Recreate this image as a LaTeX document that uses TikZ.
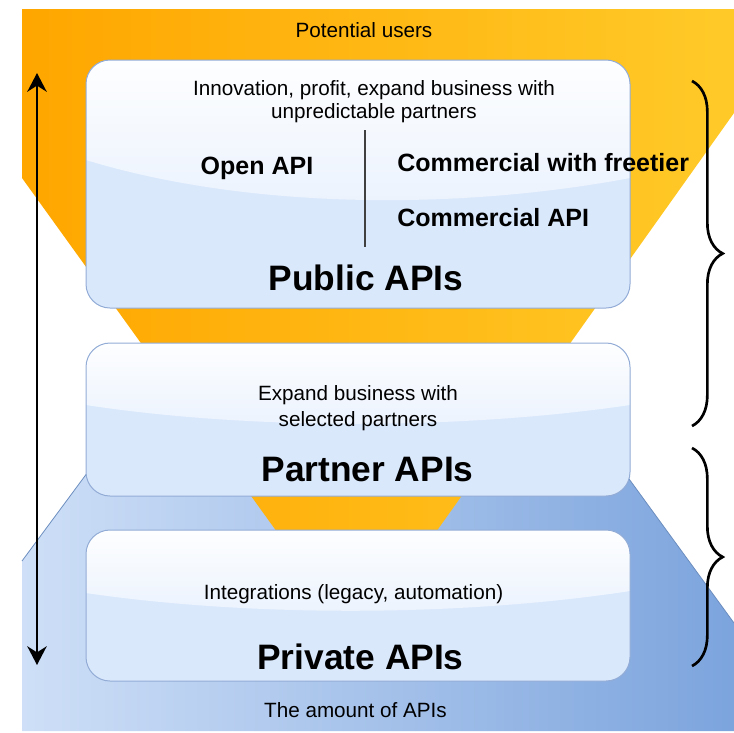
\documentclass[tikz,border=0pt]{standalone}
\usepackage{fontspec}
\setmainfont{Liberation Sans}
\usetikzlibrary{arrows.meta, decorations.pathreplacing}
\definecolor{funnelleft}{RGB}{255,166,0}
\definecolor{funnelright}{RGB}{255,202,40}
\definecolor{baseleft}{RGB}{206,223,247}
\definecolor{baseright}{RGB}{124,164,221}
\definecolor{baseedge}{RGB}{108,142,191}
\definecolor{boxfill}{RGB}{218,232,252}
\definecolor{boxedge}{RGB}{146,172,214}

\begin{document}
\begin{tikzpicture}[x=0.75pt, y=-0.75pt, >={Stealth[length=14pt, width=14.5pt]},
    desc/.style={inner sep=0pt, align=center, font=\fontsize{15.5}{17.3}\selectfont},
    kind/.style={inner sep=0pt, font=\bfseries\fontsize{18.75}{22}\selectfont},
    tier/.style={inner sep=0pt, font=\bfseries\fontsize{26.5}{30}\selectfont}]
    \useasboundingbox (0,0) rectangle (734,732);

    % Base of the pyramid: amount of APIs
    \shade[left color=baseleft, right color=baseright] (22,731) -- (22,561) -- (358,107) -- (734,623) -- (734,731) -- cycle;
    \draw[baseedge, line width=0.6pt] (22,561) -- (358,107) -- (734,623);

    % Funnel: potential users
    \shade[left color=funnelleft, right color=funnelright] (22,9) -- (734,9) -- (734,113) -- (357,643) -- (22,178) -- cycle;

    % Tier boxes with gloss
    \foreach \top/\bot/\gll/\glr/\glc in {60/308/160/178/210, 343/496/405/405/430, 530/681/593/591/617} {
        \fill[boxfill, rounded corners=18pt] (86,\top) rectangle (630,\bot);
        \begin{scope}
            \clip[rounded corners=18pt] (86,\top) rectangle (630,\bot);
            \shade[top color=white!96!boxfill, bottom color=boxfill!55!white] (86,\top) -- (86,\gll)
                .. controls (250,\glc) and (460,\glc) .. (630,\glr) -- (630,\top) -- cycle;
        \end{scope}
        \draw[boxedge, line width=0.75pt, rounded corners=18pt] (86,\top) rectangle (630,\bot);
    }

    % Texts
    \node[desc, anchor=base] (users) at (364,37) {Potential users};
    \node[desc] (publicdesc) at (374,102) {Innovation, profit, expand business with\\unpredictable partners};
    \node[kind, anchor=base] (openapi) at (257,174) {Open API};
    \node[kind, anchor=base west] (freetier) at (397,171) {Commercial with freetier};
    \node[kind, anchor=base west] (commercial) at (397,226) {Commercial API};
    \node[tier, anchor=base] (publicapis) at (366,290) {Public APIs};

    \node[desc, font=\fontsize{15.5}{19.5}\selectfont] (partnerdesc) at (358,408) {Expand business with\\selected partners};
    \node[tier, anchor=base] (partnerapis) at (367.5,481) {Partner APIs};

    \node[desc, anchor=base] (privatedesc) at (353.5,599) {Integrations (legacy, automation)};
    \node[tier, anchor=base] (privateapis) at (360.5,669) {Private APIs};

    \node[desc, anchor=base] (amount) at (355.5,717) {The amount of APIs};

    % Divider between open and commercial
    \coordinate (divtop) at (365,130);
    \coordinate (divbottom) at (365,247);
    \draw[black!75, line width=1.1pt] (divtop) -- (divbottom);

    % Scale arrow
    \coordinate (scaletop) at (37,73);
    \coordinate (scalebottom) at (37,665);
    \draw[<->, line width=2.2pt] (scaletop) -- (scalebottom);

    % Braces
    \coordinate (uppertop) at (692,81);
    \coordinate (upperbottom) at (692,426);
    \coordinate (lowertop) at (692,448);
    \coordinate (lowerbottom) at (692,666);
    \draw[decorate, decoration={brace, amplitude=23pt}, line width=2pt] (uppertop) -- (upperbottom);
    \draw[decorate, decoration={brace, amplitude=23pt}, line width=2pt] (lowertop) -- (lowerbottom);
\end{tikzpicture}
\end{document}
